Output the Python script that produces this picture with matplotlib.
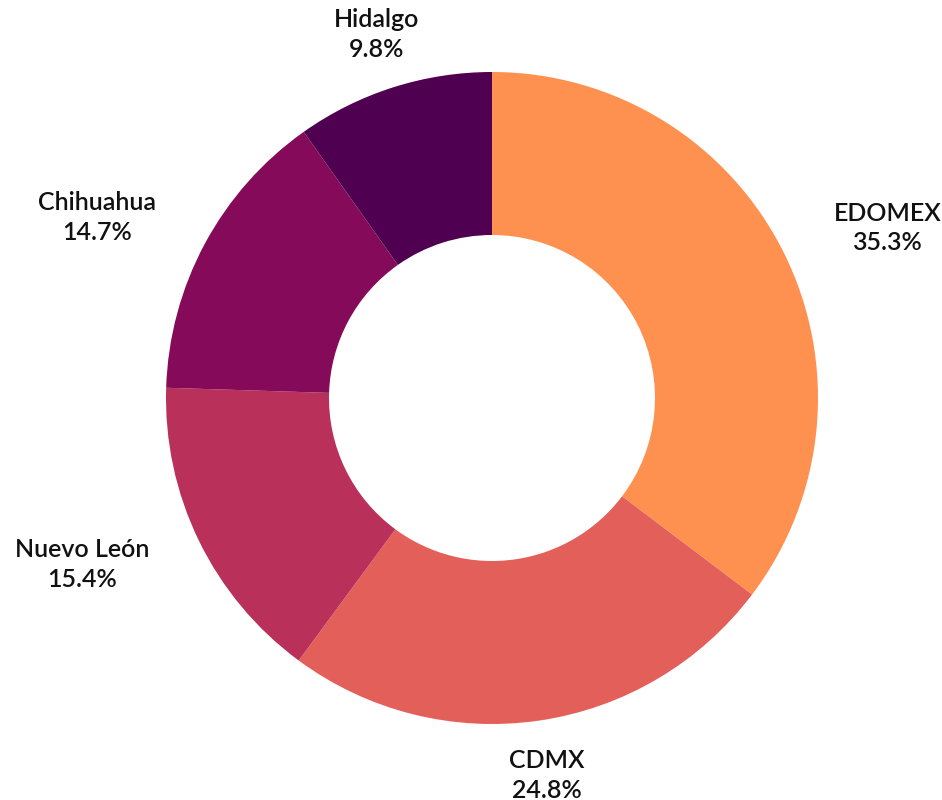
import numpy as np
import matplotlib.pyplot as plt

states = ['EDOMEX', 'CDMX', 'Nuevo León', 'Chihuahua', 'Hidalgo']
shares = [35.3, 24.8, 15.4, 14.7, 9.8]
colors = ['#FE9150', '#E35F5A', '#B9305A', '#850B5A', '#4F0050']

fig = plt.figure(figsize=(9.42, 8), dpi=100)
ax = fig.add_axes([0, 0, 1, 1])

wedges, _ = ax.pie(shares, colors=colors, startangle=90, counterclock=False,
                   wedgeprops=dict(width=0.5, linewidth=0))

for w, name, val in zip(wedges, states, shares):
    ang = np.deg2rad((w.theta1 + w.theta2) / 2)
    x, y = 1.17 * np.cos(ang), 1.17 * np.sin(ang)
    if abs(np.cos(ang)) < 0.5:
        ha = 'center'
    elif x > 0:
        ha = 'left'
    else:
        ha = 'right'
    ax.text(x, y, f'{name}\n{val}%', ha=ha, va='center', multialignment='center',
            fontsize=18, family='Lato', fontweight='semibold', linespacing=1.35,
            color='#111111')

# fit pixels: centre at (492, 398), radius 326 px
ax.set_xlim(-492 / 326, (942 - 492) / 326)
ax.set_ylim(-(800 - 398) / 326, 398 / 326)
ax.set_aspect('auto')
ax.axis('off')

fig.savefig('out.png', dpi=100)
